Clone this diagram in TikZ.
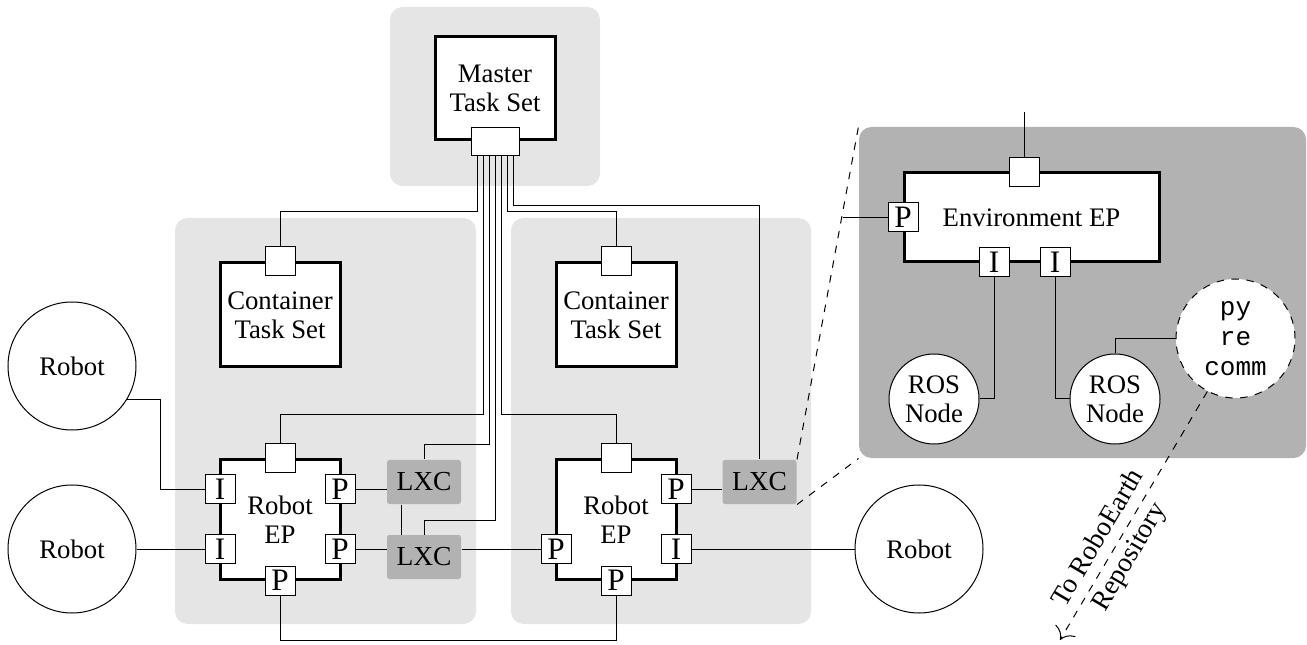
\documentclass[tikz,border=0pt]{standalone}
\usepackage{fontspec}
\setmainfont{Liberation Serif}
\setmonofont{Liberation Mono}
\usetikzlibrary{calc,arrows.meta}

\tikzset{
    panel/.style={fill=black!10, rounded corners=5pt},
    darkpanel/.style={fill=black!30, rounded corners=5pt, minimum width=178.8pt, minimum height=132.4pt},
    taskbox/.style={draw, line width=1.2pt, fill=white, align=center, minimum width=48pt, inner sep=0pt},
    port/.style={draw, fill=white, minimum width=12pt, minimum height=11.6pt, inner sep=0pt, font=\fontsize{12.5}{12.5}\selectfont},
    lxc/.style={fill=black!30, rounded corners=1pt, minimum width=29.6pt, minimum height=17.6pt, inner sep=0pt, font=\fontsize{11}{11}\selectfont},
    robot/.style={draw, circle, fill=white, minimum size=51.2pt, inner sep=0pt},
    rosnode/.style={draw, circle, fill=white, minimum size=36pt, inner sep=0pt, align=center},
}

\begin{document}
\begin{tikzpicture}[x=0.4pt, y=-0.4pt, font=\fontsize{10.7}{11.6}\selectfont]
    \useasboundingbox (0,0) rectangle (1307,645);
    % Background panels
    \fill[panel] (390,7) rectangle (600,186);
    \fill[panel] (175,218) rectangle (476,624);
    \fill[panel] (511,218) rectangle (811,624);
    \node[darkpanel] (envpanel) at (1082.5,292.5) {};

    % Task sets
    \node[taskbox, minimum height=41.2pt] (master) at (495,88.5) {Master\\Task Set};
    \node[port, minimum width=19.2pt, minimum height=11.2pt] (mport) at (master.south) {};
    \node[taskbox, minimum height=41.6pt] (cts1) at (280,315) {Container\\Task Set};
    \node[port] (cport1) at (cts1.north) {};
    \node[taskbox, minimum height=41.6pt] (cts2) at (616,315) {Container\\Task Set};
    \node[port] (cport2) at (cts2.north) {};

    % Robot endpoints and their ports
    \node[taskbox, minimum height=47.6pt] (lep) at (280,519.5) {Robot\\EP};
    \node[port] (ltop) at (lep.north) {};
    \node[port] (li1) at (220,489) {I};
    \node[port] (li2) at (220,549) {I};
    \node[port] (lp1) at (340,489) {P};
    \node[port] (lp2) at (340,549) {P};
    \node[port] (lbot) at (lep.south) {P};
    \node[taskbox, minimum height=47.6pt] (rep) at (616,519.5) {Robot\\EP};
    \node[port] (rtop) at (rep.north) {};
    \node[port] (rp1) at (556,549) {P};
    \node[port] (rp2) at (676,489) {P};
    \node[port] (ri) at (676,549) {I};
    \node[port] (rbot) at (rep.south) {P};

    % Containers
    \node[lxc] (lxc1) at (424,482) {LXC};
    \node[lxc] (lxc2) at (424,557) {LXC};
    \node[lxc] (lxc3) at (759.5,482) {LXC};

    % Robots
    \node[robot] (robot1) at (72,366) {Robot};
    \node[robot] (robot2) at (72,549) {Robot};
    \node[robot] (robot3) at (919,549) {Robot};

    % Bundle from the master task set
    \foreach \dx/\dy/\target in {-18/56/cport1.north, -12/258/ltop.north, -6/288/lxc1.north,
            0/364/lxc2.north, 6/258/rtop.north, 12/56/cport2.north, 18/50/lxc3.north}
        \draw ($(mport.south)+(\dx,0)$) -- ++(0,\dy) -| (\target);

    % Robot side connections
    \draw (robot1.-31) -- ++(33,0) |- (li1);
    \draw (robot2) -- (li2);
    \draw (ri) -- (robot3);
    \draw (lp1) -- (lp1 -| lxc1.west);
    \draw (lp2) -- (lp2 -| lxc2.west);
    \draw (lxc2.east |- rp1) -- (rp1);
    \draw (rp2) -- (rp2 -| lxc3.west);
    \draw ($(lxc1.south)+(-23,0)$) -- ($(lxc2.north)+(-23,0)$);
    \draw (lbot.south) -- ++(0,45) -| (rbot.south);

    % Zoomed container
    \draw[dashed] (lxc3.north east) -- (envpanel.north west);
    \draw[dashed] (lxc3.south east) -- (envpanel.south west);
    \node[taskbox, minimum width=102pt, minimum height=35.6pt] (env) at (1031.5,217.5) {Environment EP};
    \node[port] (etop) at (1024,172) {};
    \node[port] (ep) at (903,217.5) {P};
    \node[port] (ei1) at (994,262) {I};
    \node[port] (ei2) at (1055,262) {I};
    \node[rosnode] (ros1) at (934,399) {ROS\\Node};
    \node[rosnode] (ros2) at (1115,399) {ROS\\Node};
    \node[rosnode, dashed, minimum size=47.6pt, font=\ttfamily\fontsize{10.4}{12}\selectfont] (pyre) at (1235.5,338.5) {py\\re\\comm};
    \draw (etop.north) -- ++(0,-45);
    \draw (ep.west) -- ++(-45,0);
    \draw (ei1.south) |- (ros1);
    \draw (ei2.south) |- (ros2);
    \draw (ros2.north) |- (pyre);
    \draw[dashed, -{To[scale=1.8]}] (pyre.-118) -- (1060,640)
        node[sloped, pos=0.63, align=center, font=\fontsize{11}{11.6}\selectfont] {To RoboEarth\\[3pt]Repository};
\end{tikzpicture}
\end{document}
